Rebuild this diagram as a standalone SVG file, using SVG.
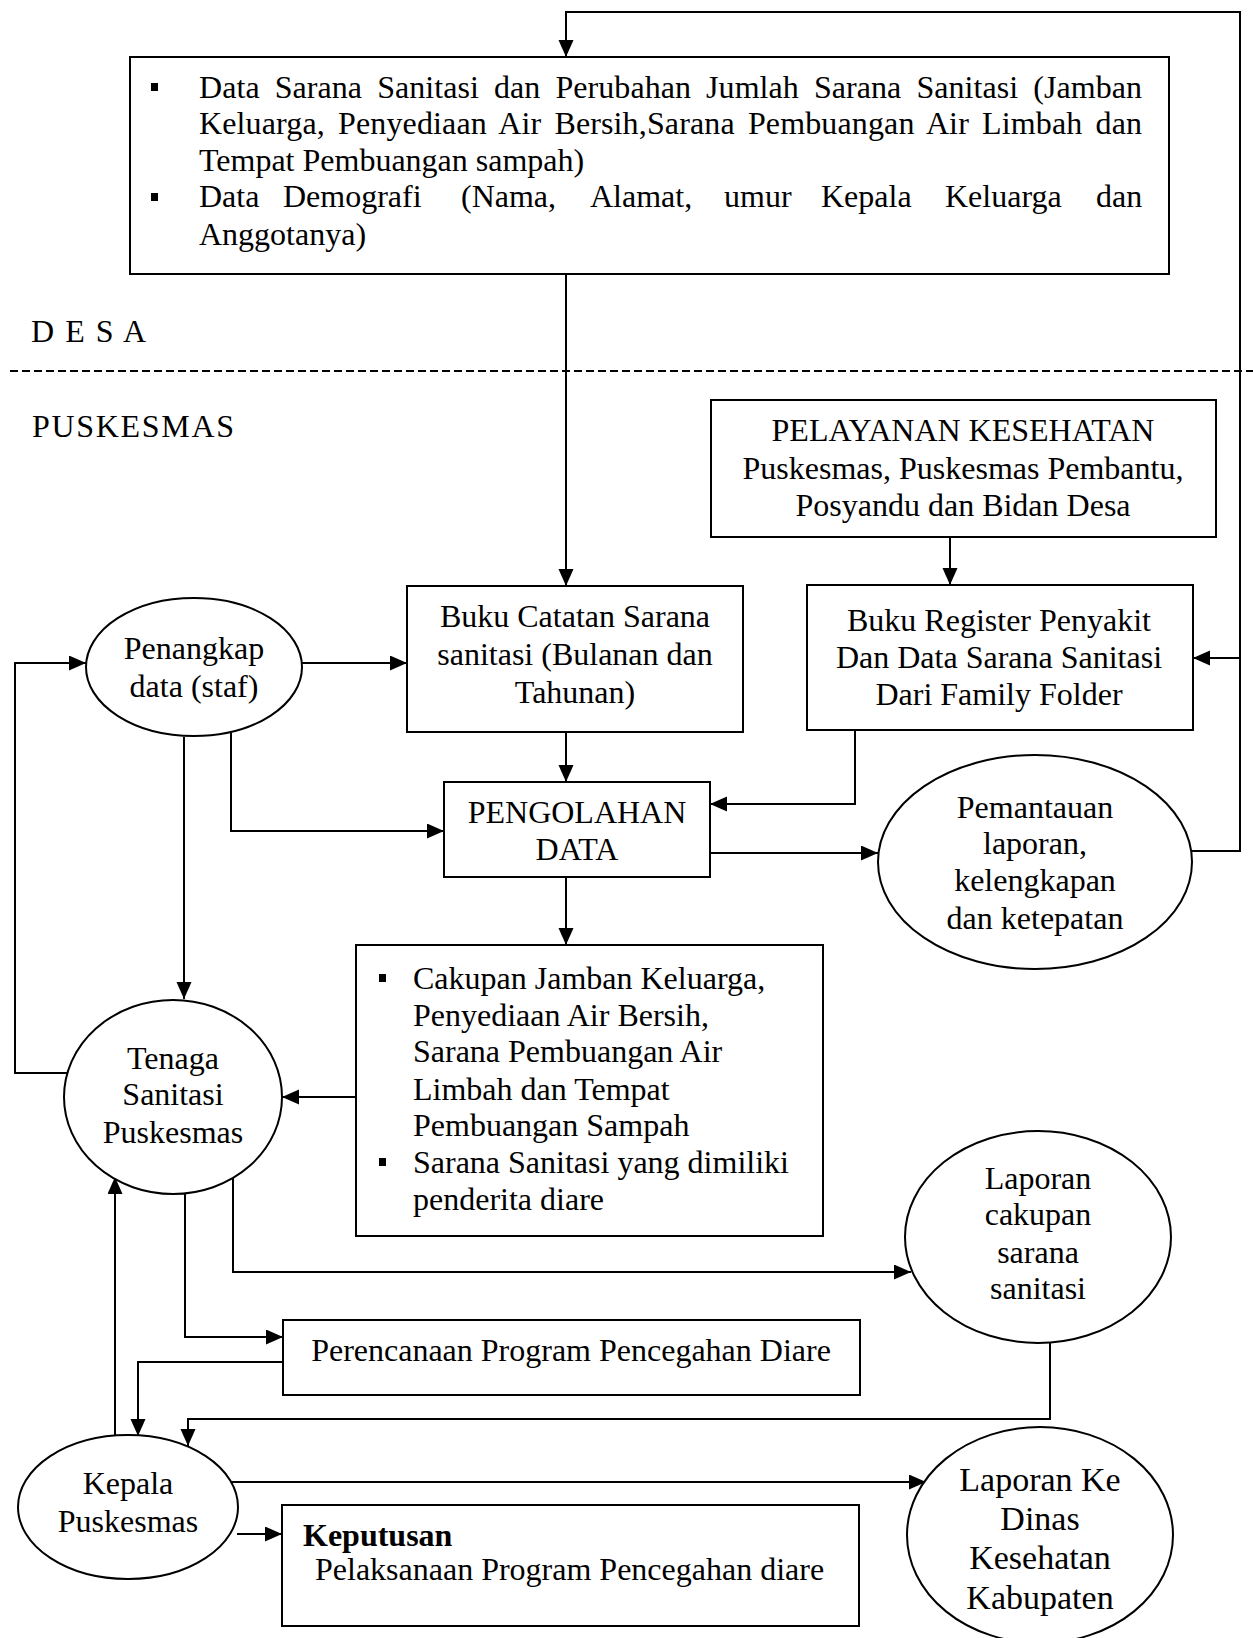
<svg xmlns="http://www.w3.org/2000/svg" width="1253" height="1638" viewBox="0 0 1253 1638">
  <defs>
    <marker id="arrow" markerUnits="userSpaceOnUse" markerWidth="18" markerHeight="16" refX="17" refY="7.5" orient="auto">
      <path d="M0,0 L17,7.5 L0,15 z" fill="#000"/>
    </marker>
    <style>
      .box { fill: #fff; stroke: #000; stroke-width: 2; }
      .oval { fill: #fff; stroke: #000; stroke-width: 2; }
      .wire { fill: none; stroke: #000; stroke-width: 2; }
      .wire-arrow { fill: none; stroke: #000; stroke-width: 2; marker-end: url(#arrow); }
      .t { font-family: "Liberation Serif", "Times New Roman", serif; font-size: 32px; fill: #000; }
      .c { text-anchor: middle; }
      .big { font-size: 34px; }
      .bul { fill: #000; }
      .zone { stroke: #000; stroke-width: 2; stroke-dasharray: 8 4; }
    </style>
  </defs>

  <rect width="1253" height="1638" fill="#fff"/>

  <!-- zone labels and divider -->
  <g id="zones">
    <text class="t" x="31" y="342" font-size="30" textLength="115">D E S A</text>
    <line class="zone" x1="10" y1="371" x2="1253" y2="371"/>
    <text class="t" x="32" y="437" font-size="35" textLength="202">PUSKESMAS</text>
  </g>

  <!-- connectors -->
  <g id="connectors">
    <path class="wire-arrow" d="M1191,851 H1240 V12 H566 V57"/>
    <path class="wire-arrow" d="M1240,658 H1193"/>
    <path class="wire-arrow" d="M566,274 V586"/>
    <path class="wire-arrow" d="M950,537 V585"/>
    <path class="wire-arrow" d="M302,663 H407"/>
    <path class="wire-arrow" d="M67,1073 H15 V663 H86"/>
    <path class="wire-arrow" d="M231,733 V831 H444"/>
    <path class="wire-arrow" d="M184,737 V999"/>
    <path class="wire-arrow" d="M566,732 V782"/>
    <path class="wire-arrow" d="M855,730 V804 H710"/>
    <path class="wire-arrow" d="M710,853 H878"/>
    <path class="wire-arrow" d="M566,877 V945"/>
    <path class="wire-arrow" d="M356,1097 H282"/>
    <path class="wire-arrow" d="M233,1178 V1272 H911"/>
    <path class="wire-arrow" d="M185,1194 V1337 H283"/>
    <path class="wire-arrow" d="M283,1362 H138 V1436"/>
    <path class="wire-arrow" d="M115,1436 V1177"/>
    <path class="wire-arrow" d="M1050,1343 V1419 H188 V1446"/>
    <path class="wire-arrow" d="M231,1482 H926"/>
    <path class="wire-arrow" d="M237,1534 H282"/>
  </g>

  <!-- village data -->
  <g id="data-desa">
    <rect class="box" x="130" y="57" width="1039" height="217"/>
    <rect class="bul" x="151" y="83" width="7" height="8"/>
    <rect class="bul" x="151" y="193" width="7" height="8"/>
    <text class="t" x="199" y="98" word-spacing="7" textLength="943">Data Sarana Sanitasi dan Perubahan Jumlah Sarana Sanitasi (Jamban</text>
    <text class="t" x="199" y="134" word-spacing="5" textLength="943">Keluarga, Penyediaan Air Bersih,Sarana Pembuangan Air Limbah dan</text>
    <text class="t" x="199" y="171">Tempat Pembuangan sampah)</text>
    <text class="t" y="207"><tspan x="199">Data</tspan><tspan x="283">Demografi</tspan><tspan x="461">(Nama,</tspan><tspan x="590">Alamat,</tspan><tspan x="724">umur</tspan><tspan x="821">Kepala</tspan><tspan x="945">Keluarga</tspan><tspan x="1096">dan</tspan></text>
    <text class="t" x="199" y="245">Anggotanya)</text>
  </g>

  <g id="pelayanan">
    <rect class="box" x="711" y="400" width="505" height="137"/>
    <text class="t c" x="963" y="441">PELAYANAN KESEHATAN</text>
    <text class="t c" x="963" y="479">Puskesmas, Puskesmas Pembantu,</text>
    <text class="t c" x="963" y="516">Posyandu dan Bidan Desa</text>
  </g>

  <g id="penangkap">
    <ellipse class="oval" cx="194" cy="667" rx="108" ry="69"/>
    <text class="t c" x="194" y="659">Penangkap</text>
    <text class="t c" x="194" y="697">data (staf)</text>
  </g>

  <g id="buku-catatan">
    <rect class="box" x="407" y="586" width="336" height="146"/>
    <text class="t c" x="575" y="627">Buku Catatan Sarana</text>
    <text class="t c" x="575" y="665">sanitasi (Bulanan dan</text>
    <text class="t c" x="575" y="703">Tahunan)</text>
  </g>

  <g id="buku-register">
    <rect class="box" x="807" y="585" width="386" height="145"/>
    <text class="t c" x="999" y="631">Buku Register Penyakit</text>
    <text class="t c" x="999" y="668">Dan Data Sarana Sanitasi</text>
    <text class="t c" x="999" y="705">Dari Family Folder</text>
  </g>

  <g id="pengolahan">
    <rect class="box" x="444" y="782" width="266" height="95"/>
    <text class="t c" x="577" y="823">PENGOLAHAN</text>
    <text class="t c" x="577" y="860">DATA</text>
  </g>

  <g id="pemantauan">
    <ellipse class="oval" cx="1035" cy="862" rx="157" ry="107"/>
    <text class="t c" x="1035" y="818">Pemantauan</text>
    <text class="t c" x="1035" y="854">laporan,</text>
    <text class="t c" x="1035" y="891">kelengkapan</text>
    <text class="t c" x="1035" y="929">dan ketepatan</text>
  </g>

  <g id="cakupan">
    <rect class="box" x="356" y="945" width="467" height="291"/>
    <rect class="bul" x="379" y="974" width="7" height="8"/>
    <rect class="bul" x="379" y="1158" width="7" height="8"/>
    <text class="t" x="413" y="989" font-size="33">Cakupan Jamban Keluarga,</text>
    <text class="t" x="413" y="1026" font-size="33">Penyediaan Air Bersih,</text>
    <text class="t" x="413" y="1062" font-size="33">Sarana Pembuangan Air</text>
    <text class="t" x="413" y="1100" font-size="33">Limbah dan Tempat</text>
    <text class="t" x="413" y="1136" font-size="33">Pembuangan Sampah</text>
    <text class="t" x="413" y="1173" font-size="33">Sarana Sanitasi yang dimiliki</text>
    <text class="t" x="413" y="1210" font-size="33">penderita diare</text>
  </g>

  <g id="tenaga-sanitasi">
    <ellipse class="oval" cx="173" cy="1097" rx="109" ry="97"/>
    <text class="t c" x="173" y="1069">Tenaga</text>
    <text class="t c" x="173" y="1105">Sanitasi</text>
    <text class="t c" x="173" y="1143">Puskesmas</text>
  </g>

  <g id="laporan-cakupan">
    <ellipse class="oval" cx="1038" cy="1237" rx="133" ry="106"/>
    <text class="t c" x="1038" y="1189">Laporan</text>
    <text class="t c" x="1038" y="1225">cakupan</text>
    <text class="t c" x="1038" y="1263">sarana</text>
    <text class="t c" x="1038" y="1299">sanitasi</text>
  </g>

  <g id="perencanaan">
    <rect class="box" x="283" y="1320" width="577" height="75"/>
    <text class="t c" x="571" y="1361">Perencanaan Program Pencegahan Diare</text>
  </g>

  <g id="kepala-puskesmas">
    <ellipse class="oval" cx="128" cy="1507" rx="110" ry="72"/>
    <text class="t c" x="128" y="1494">Kepala</text>
    <text class="t c" x="128" y="1532">Puskesmas</text>
  </g>

  <g id="keputusan">
    <rect class="box" x="282" y="1505" width="577" height="121"/>
    <text class="t" x="303" y="1546" font-weight="bold">Keputusan</text>
    <text class="t" x="315" y="1580">Pelaksanaan Program Pencegahan diare</text>
  </g>

  <g id="laporan-dinas">
    <ellipse class="oval" cx="1040" cy="1535" rx="133" ry="108"/>
    <text class="t c big" x="1040" y="1491">Laporan Ke</text>
    <text class="t c big" x="1040" y="1530">Dinas</text>
    <text class="t c big" x="1040" y="1569">Kesehatan</text>
    <text class="t c big" x="1040" y="1609">Kabupaten</text>
  </g>
</svg>
